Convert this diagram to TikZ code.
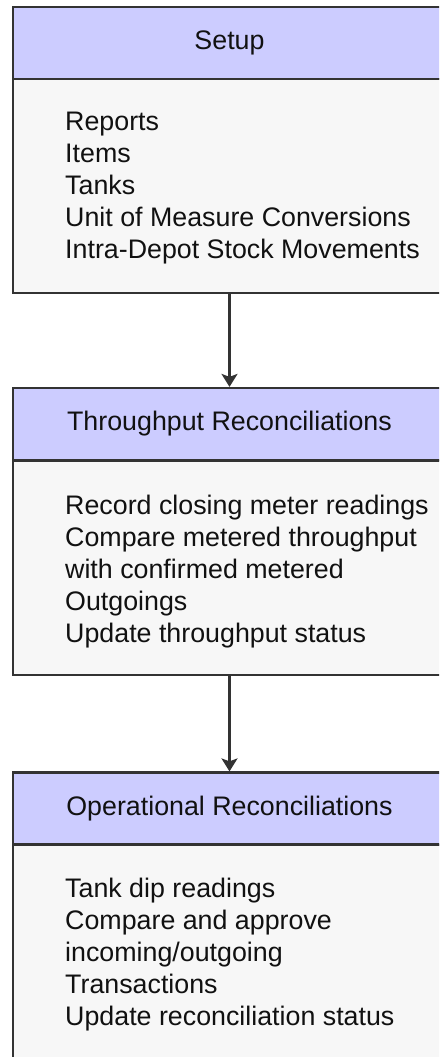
\documentclass[tikz,border=0pt]{standalone}
\usepackage{fontspec}
\setmainfont{Liberation Sans}
\usetikzlibrary{arrows.meta}
\definecolor{hdrfill}{HTML}{CCCCFF}
\definecolor{bodyfill}{HTML}{F7F7F7}
\definecolor{edge}{HTML}{333333}
\definecolor{ink}{HTML}{111111}
\tikzset{
  hdr/.style={draw=edge, line width=2.2pt, fill=hdrfill, minimum width=433pt, minimum height=72pt, inner sep=0pt, text=ink, font=\fontsize{26.8}{32}\selectfont},
  bodybox/.style={draw=edge, line width=2.2pt, fill=bodyfill, minimum width=433pt, minimum height=214pt, inner sep=0pt},
  bodytext/.style={anchor=north west, align=left, inner sep=0pt, text=ink, font=\fontsize{26.8}{32}\selectfont},
  arr/.style={draw=edge, line width=2.2pt, -{Stealth[length=13pt,width=16pt,inset=3pt]}}
}
\begin{document}
\begin{tikzpicture}[x=1pt,y=-1pt]
\useasboundingbox (0,0) rectangle (439,1057);
\fill[white] (0,0) rectangle (439,1057);
\begin{scope}
\clip (0,0) rectangle (439,1057);
% box 1
\node[hdr] (h1) at (229.5,43) {Setup};
\node[bodybox] (b1) at (229.5,186) {};
\node[bodytext] (t1) at (65,111.5) {Reports\\Items\\Tanks\\Unit of Measure Conversions\\Intra-Depot Stock Movements};
% box 2
\node[hdr] (h2) at (229.5,424) {Throughput Reconciliations};
\node[bodybox] (b2) at (229.5,568) {};
\node[bodytext] (t2) at (65,494.5) {Record closing meter readings\\Compare metered throughput\\with confirmed metered\\Outgoings\\Update throughput status};
% box 3
\node[hdr] (h3) at (229.5,808.5) {Operational Reconciliations};
\node[bodybox] (b3) at (229.5,952) {};
\node[bodytext] (t3) at (65,877.5) {Tank dip readings\\Compare and approve\\incoming/outgoing\\Transactions\\Update reconciliation status};
\end{scope}
\draw[arr] (b1.south) -- (h2.north);
\draw[arr] (b2.south) -- (h3.north);
\end{tikzpicture}
\end{document}
